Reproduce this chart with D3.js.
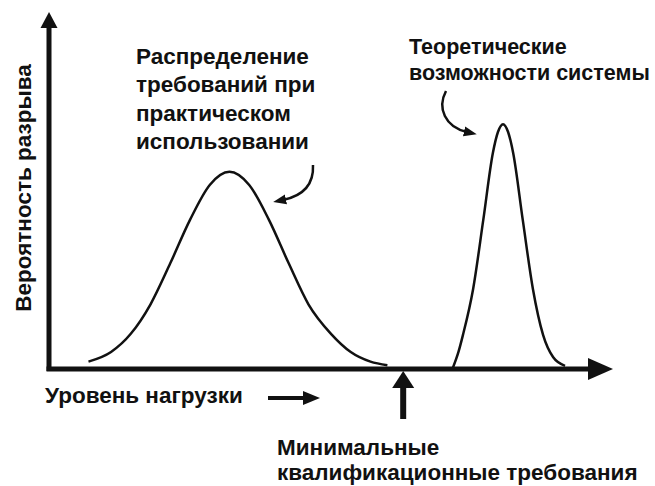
<!DOCTYPE html>
<html>
<head>
<meta charset="utf-8">
<script src="https://cdn.jsdelivr.net/npm/d3@7"></script>
<style>
  body { margin: 0; background: #fff; }
  text { font-family: "Liberation Sans", Arial, sans-serif; font-weight: bold; font-size: 22.5px; fill: #111; }
  text.capacity { font-size: 21.5px; }
</style>
</head>
<body>
<svg width="655" height="486"></svg>
<script>
// load level (0..100) and break probability (0..1)
const demandX = [7, 11, 14.5, 18, 21.5, 25, 28.5, 32, 35.5, 39, 42.5, 46, 50, 53.5, 57, 60];
const demandY = [.018, .045, .096, .179, .294, .416, .514, .551, .514, .416, .294, .179, .096, .045, .018, .008];

const capacityX = [71.6, 72.6, 73.4, 75.2, 77.0, 78.7, 79.6, 80.5, 81.4, 82.3, 84.0, 85.8, 87.6, 89.4, 91.5];
const capacityY = [0, .045, .093, .222, .416, .604, .663, .685, .663, .604, .416, .222, .093, .030, .006];

const minRequirement = 62.8;

const yLabel = "Вероятность разрыва";
const xLabel = "Уровень нагрузки";
const demandLabel = ["Распределение", "требований при", "практическом", "использовании"];
const capacityLabel = ["Теоретические", "возможности системы"];
const minLabel = ["Минимальные", "квалификационные требования"];

const svg = d3.select("svg");

let x = d3.scaleLinear()
    .domain([0, 100])
    .range([49, 613]);

let y = d3.scaleLinear()
    .domain([0, 1])
    .range([368, 12]);

let defs = svg.append("defs");

defs.append("marker")
    .attr("id", "head")
    .attr("markerUnits", "userSpaceOnUse")
    .attr("viewBox", "0 -6 14 12")
    .attr("refX", 3)
    .attr("refY", 0)
    .attr("markerWidth", 14)
    .attr("markerHeight", 12)
    .attr("orient", "auto")
    .append("path")
    .attr("d", "M0,-5L13,0L0,5Z")
    .attr("fill", "#111");

// curves
let line = d3.line()
    .x(d => x(d[0]))
    .y(d => y(d[1]))
    .curve(d3.curveMonotoneX);

svg.append("path")
    .datum(d3.zip(demandX, demandY))
    .attr("d", line)
    .attr("fill", "none")
    .attr("stroke", "#111")
    .attr("stroke-width", 2.5);

svg.append("path")
    .datum(d3.zip(capacityX, capacityY))
    .attr("d", line)
    .attr("fill", "none")
    .attr("stroke", "#111")
    .attr("stroke-width", 2.5);

// axes
let x0 = x.range()[0], x1 = x.range()[1];
let y0 = y.range()[0], y1 = y.range()[1];

svg.append("line")
    .attr("x1", x0).attr("y1", y0 + 3)
    .attr("x2", x0).attr("y2", y1 + 14)
    .attr("stroke", "#111")
    .attr("stroke-width", 5);

svg.append("path")
    .attr("d", `M${x0 - 8.5},${y1 + 16}L${x0},${y1}L${x0 + 8.5},${y1 + 16}Z`)
    .attr("fill", "#111");

svg.append("line")
    .attr("x1", x0 - 2.5).attr("y1", y0 + 1)
    .attr("x2", x1 - 22).attr("y2", y0 + 1)
    .attr("stroke", "#111")
    .attr("stroke-width", 5);

svg.append("path")
    .attr("d", `M${x1 - 25},${y0 - 10}L${x1},${y0 + 1}L${x1 - 25},${y0 + 12}Z`)
    .attr("fill", "#111");

// minimum requirement arrow
let mx = x(minRequirement);

svg.append("line")
    .attr("x1", mx).attr("y1", 419)
    .attr("x2", mx).attr("y2", 385)
    .attr("stroke", "#111")
    .attr("stroke-width", 6);

svg.append("path")
    .attr("d", `M${mx - 11},388L${mx},${y0 + 3}L${mx + 11},388Z`)
    .attr("fill", "#111");

// load direction arrow
svg.append("line")
    .attr("x1", 268).attr("y1", 398)
    .attr("x2", 306).attr("y2", 398)
    .attr("stroke", "#111")
    .attr("stroke-width", 4);

svg.append("path")
    .attr("d", "M303,391L320,398L303,405Z")
    .attr("fill", "#111");

// pointers from labels to curves
svg.append("path")
    .attr("d", "M313,165C314,186 302,196 283,200")
    .attr("fill", "none")
    .attr("stroke", "#111")
    .attr("stroke-width", 2.5)
    .attr("marker-end", "url(#head)");

svg.append("path")
    .attr("d", "M446,91C437,108 445,127 467,132")
    .attr("fill", "none")
    .attr("stroke", "#111")
    .attr("stroke-width", 2.5)
    .attr("marker-end", "url(#head)");

// labels
svg.append("text")
    .attr("transform", "translate(31,188) rotate(-90)")
    .attr("text-anchor", "middle")
    .text(yLabel);

svg.append("text")
    .attr("x", 45)
    .attr("y", 403)
    .text(xLabel);

svg.selectAll(".demand")
    .data(demandLabel)
    .enter()
    .append("text")
    .attr("class", "demand")
    .attr("x", 136)
    .attr("y", (d, i) => 64 + i * 28.3)
    .text(d => d);

svg.selectAll(".capacity")
    .data(capacityLabel)
    .enter()
    .append("text")
    .attr("class", "capacity")
    .attr("x", 409)
    .attr("y", (d, i) => 54 + i * 25.5)
    .text(d => d);

svg.selectAll(".minreq")
    .data(minLabel)
    .enter()
    .append("text")
    .attr("class", "minreq")
    .attr("x", 277)
    .attr("y", (d, i) => 455 + i * 25)
    .text(d => d);
</script>
</body>
</html>
